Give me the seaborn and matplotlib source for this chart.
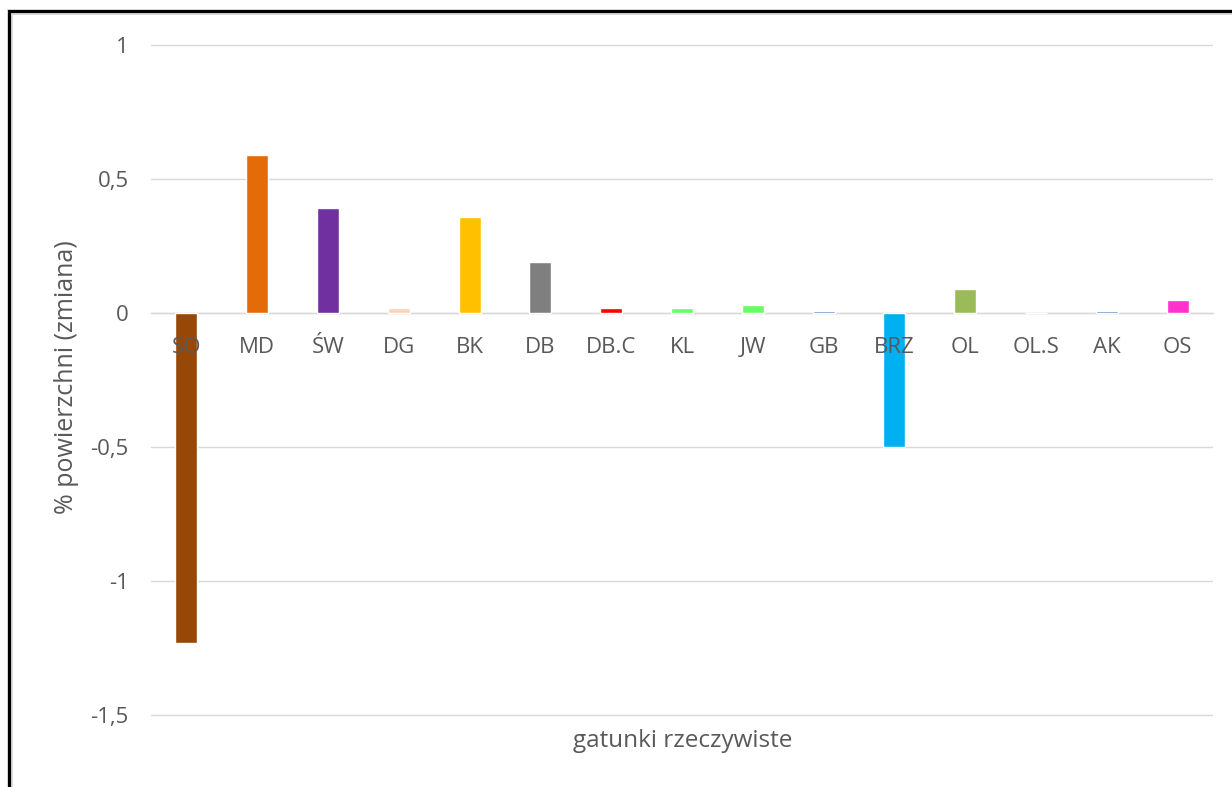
import matplotlib
matplotlib.use("Agg")
import matplotlib.pyplot as plt
from matplotlib.patches import Rectangle
import seaborn as sns
import pandas as pd

# Species codes and area change (percentage points)
gatunki = ["SO", "MD", "ŚW", "DG", "BK", "DB", "DB.C", "KL", "JW", "GB",
           "BRZ", "OL", "OL.S", "AK", "OS"]
zmiana = [-1.23, 0.59, 0.39, 0.02, 0.36, 0.19, 0.02, 0.02, 0.03, 0.008,
          -0.50, 0.09, 0.0, 0.008, 0.05]
kolory = ["#974706", "#E36C09", "#7030A0", "#FBD4B4", "#FFC000", "#7F7F7F",
          "#FF0000", "#66FF66", "#66FF66", "#4F81BD", "#00B0F0", "#9BBB59",
          "#C0C0C0", "#4F81BD", "#FF33CC"]
y_ticks = [1, 0.5, 0, -0.5, -1, -1.5]
y_tick_labels = ["1", "0,5", "0", "-0,5", "-1", "-1,5"]

sns.set_style("white")
plt.rcParams["font.family"] = ["Open Sans", "DejaVu Sans"]
txt = "#595959"
fs = 16

W, H = 1232, 787
fig = plt.figure(figsize=(W / 100, H / 100), dpi=100)
ax = fig.add_axes([151 / W, 70 / H, (1213 - 151) / W, (717 - 43) / H])

df = pd.DataFrame({"gatunek": gatunki, "zmiana": zmiana})
sns.barplot(data=df, x="gatunek", y="zmiana", hue="gatunek",
            palette=dict(zip(gatunki, kolory)), width=0.31,
            legend=False, ax=ax, saturation=1)

pad_u = 2 / 268
ax.set_ylim(-1.5 - pad_u, 1.0 + pad_u)
ax.set_xlim(-0.5, len(gatunki) - 0.5)
ax.set_yticks(y_ticks)
ax.set_yticklabels(y_tick_labels, color=txt, fontsize=fs)
ax.tick_params(axis="y", length=0, pad=16)
ax.yaxis.grid(True, color="#D9D9D9", linewidth=1)
ax.set_axisbelow(True)

for s in ["top", "right", "left"]:
    ax.spines[s].set_visible(False)
ax.spines["bottom"].set_position(("data", 0))
ax.spines["bottom"].set_color("#D9D9D9")
ax.spines["bottom"].set_linewidth(1)
ax.spines["bottom"].set_zorder(0.5)
ax.tick_params(axis="x", length=0, pad=17, labelsize=fs, labelcolor=txt)
# category labels sit on top of the bars
ax.xaxis.set_zorder(5)
ax.set_xlabel("")
ax.set_ylabel("")

fig.text(67 / W, 1 - 377 / H, "% powierzchni (zmiana)", rotation=90,
         ha="center", va="center", color=txt, fontsize=18)
fig.text(683 / W, 1 - 741 / H, "gatunki rzeczywiste", ha="center",
         va="center", color=txt, fontsize=17.5)

# Caption above the frame, mostly outside the canvas
fig.text(2 / W, 1 + 9 / H, "Zmieniają powierzchnię gatunków", ha="left",
         va="baseline", color="#000000", fontsize=11)

# Chart frame
fig.patches.append(Rectangle((9.5 / W, -0.05), 1.2, 1 - 11.5 / H + 0.05,
                             transform=fig.transFigure, fill=False,
                             edgecolor="#D0D0D0", linewidth=4, zorder=9))
fig.patches.append(Rectangle((8.5 / W, -0.05), 1.2, 1 - 10.5 / H + 0.05,
                             transform=fig.transFigure, fill=False,
                             edgecolor="#000000", linewidth=2.2, zorder=10))

fig.savefig("out.png", dpi=100)
